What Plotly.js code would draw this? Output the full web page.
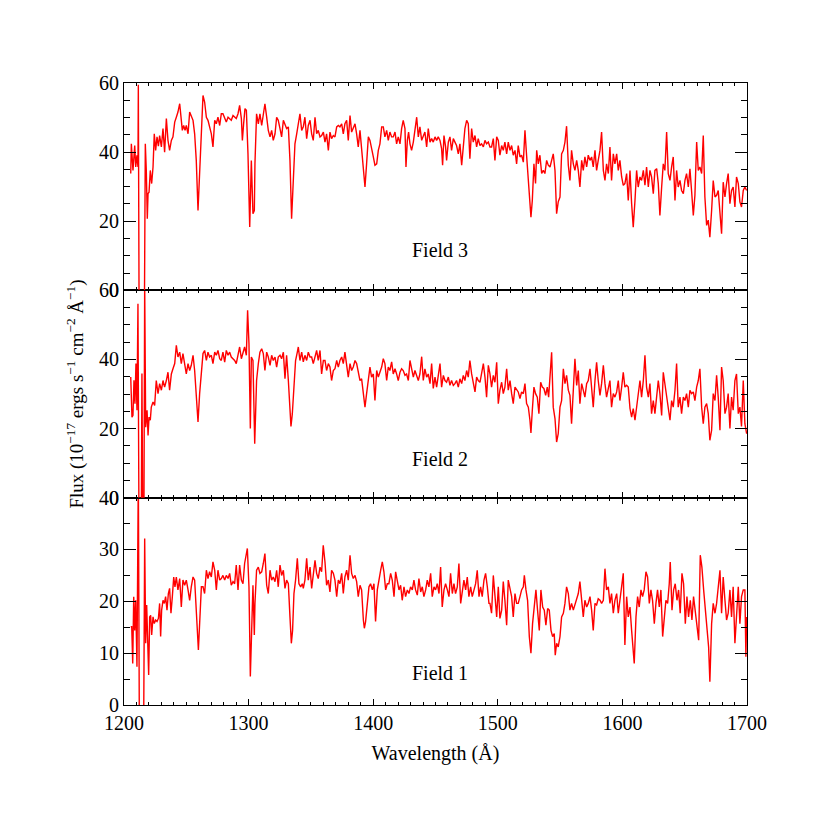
<!DOCTYPE html>
<html>
<head>
<meta charset="utf-8">
<script src="https://cdn.plot.ly/plotly-3.0.1.min.js"></script>
<style>
  body { margin: 0; background: #fff; }
  #spec { width: 830px; height: 830px; }
</style>
</head>
<body>
<div id="spec"></div>
<script>
// spectra: [wavelength (A), flux (1e-17 erg/s/cm2/A)]
let field3 = [
  [1205.4,33.8],[1205.9,42.4],[1207.2,34.7],[1208.6,41.9],[1209.4,35.7],[1210.4,39.1],[1211.2,35.7],[1211.5,59.5],
  [1212.1,-5],[1216.4,-5],[1217.1,42.4],[1217.9,34.7],[1218.7,20.7],[1219.3,28.0],[1220.1,28.4],[1221.1,34.7],
  [1222.2,30.9],[1223.3,35.7],[1224.3,45.3],[1225.4,40.5],[1226.5,44.4],[1227.6,41.7],[1228.6,44.8],[1230.0,41.5],
  [1231.3,46.8],[1232.6,40.0],[1234.0,49.7],[1235.3,43.4],[1236.6,40.5],[1238.0,43.4],[1239.3,44.4],[1240.7,48.7],
  [1242.0,50.1],[1243.3,51.6],[1244.7,54.0],[1246.0,49.2],[1246.8,46.3],[1247.9,47.7],[1249.0,46.3],[1250.0,47.7],
  [1251.4,45.3],[1252.7,51.6],[1254.0,50.1],[1255.4,49.2],[1256.7,45.3],[1258.0,37.6],[1259.4,23.1],[1260.7,34.7],
  [1262.1,49.7],[1263.4,56.4],[1264.7,54.5],[1266.1,50.1],[1267.4,49.2],[1268.7,47.3],[1270.1,45.3],[1271.4,41.5],
  [1272.8,49.2],[1274.1,48.2],[1275.4,50.1],[1276.8,47.7],[1278.1,51.1],[1279.4,51.1],[1280.8,50.1],[1282.1,48.7],
  [1283.5,50.1],[1284.8,49.7],[1286.1,49.2],[1287.5,50.6],[1288.8,50.1],[1290.1,49.7],[1291.5,51.1],[1292.8,53.5],
  [1294.2,49.7],[1295.0,43.4],[1296.0,48.2],[1297.1,52.6],[1298.2,52.1],[1299.5,39.5],[1300.9,18.3],[1302.2,37.6],
  [1303.5,22.2],[1304.6,23.1],[1305.1,36.6],[1306.4,51.1],[1307.8,48.2],[1309.1,51.1],[1310.5,47.7],[1311.8,51.1],
  [1313.1,54.0],[1314.5,50.1],[1315.8,46.3],[1317.2,44.4],[1318.5,46.3],[1319.8,43.4],[1321.2,45.3],[1322.5,50.1],
  [1323.8,49.2],[1325.2,46.8],[1326.5,44.4],[1327.9,49.2],[1329.2,48.2],[1330.5,46.8],[1331.9,47.3],[1333.2,37.6],
  [1334.5,20.7],[1335.9,34.7],[1337.2,42.4],[1338.6,45.3],[1339.9,48.2],[1341.2,51.1],[1342.6,46.3],[1343.9,47.3],
  [1345.2,50.1],[1346.6,43.9],[1347.9,47.7],[1349.3,49.2],[1350.6,45.3],[1351.9,43.4],[1353.3,50.1],[1354.6,45.3],
  [1355.9,46.3],[1357.3,44.4],[1358.6,44.8],[1360.0,45.8],[1361.3,42.9],[1362.6,45.3],[1364.0,40.5],[1365.3,45.8],
  [1366.6,43.9],[1368.0,44.8],[1369.3,44.4],[1370.7,47.3],[1372.0,47.7],[1373.3,47.3],[1374.7,48.2],[1376.0,45.3],
  [1377.3,48.2],[1378.7,49.2],[1380.0,43.4],[1381.4,50.6],[1382.7,45.8],[1384.0,46.8],[1385.4,48.2],[1386.7,45.3],
  [1388.0,41.5],[1389.4,46.3],[1390.7,40.5],[1392.1,35.7],[1393.4,29.9],[1394.7,36.6],[1396.1,44.4],[1397.4,43.4],
  [1398.7,40.5],[1400.1,38.6],[1401.4,36.2],[1402.8,36.6],[1404.1,40.5],[1405.4,42.4],[1406.8,47.3],[1408.1,47.3],
  [1409.4,44.4],[1410.8,46.3],[1412.1,43.4],[1413.4,45.8],[1414.8,44.4],[1416.1,44.4],[1417.5,45.8],[1418.8,42.4],
  [1420.1,44.4],[1421.5,42.4],[1422.8,46.8],[1424.1,49.2],[1425.5,46.8],[1426.3,35.7],[1427.4,43.4],[1428.4,45.8],
  [1429.5,42.4],[1430.8,40.5],[1432.2,42.9],[1433.5,46.3],[1434.9,50.1],[1436.2,44.4],[1437.5,47.3],[1438.9,43.4],
  [1440.2,44.4],[1441.5,45.8],[1442.9,41.5],[1444.2,46.8],[1445.6,42.9],[1446.9,43.9],[1448.2,42.9],[1449.6,44.4],
  [1450.9,43.4],[1452.2,44.4],[1453.6,43.4],[1454.9,41.0],[1455.7,36.2],[1456.8,44.8],[1458.1,41.5],[1458.9,37.6],
  [1460.3,42.9],[1461.6,44.4],[1462.9,40.5],[1464.3,43.9],[1465.6,42.9],[1466.9,41.9],[1468.3,39.5],[1469.6,42.4],
  [1471.0,36.2],[1472.3,41.5],[1473.6,46.8],[1475.0,49.2],[1476.3,48.2],[1477.6,38.1],[1479.0,46.8],[1480.3,42.9],
  [1481.7,44.8],[1483.0,41.5],[1484.3,43.9],[1485.7,41.9],[1487.0,42.4],[1488.4,41.5],[1489.7,43.4],[1491.0,42.4],
  [1492.4,42.9],[1493.7,41.5],[1495.0,41.5],[1496.4,43.9],[1497.7,37.6],[1499.1,44.4],[1500.4,43.4],[1501.7,39.1],
  [1503.1,41.9],[1504.4,40.5],[1505.7,42.9],[1507.1,39.5],[1508.4,42.9],[1509.8,40.5],[1511.1,41.9],[1512.4,39.1],
  [1513.8,40.5],[1515.1,36.6],[1516.4,41.9],[1517.8,38.6],[1519.1,39.1],[1520.5,37.1],[1521.8,46.3],[1523.1,39.1],
  [1524.5,32.8],[1525.8,26.0],[1526.6,21.2],[1527.7,26.0],[1529.0,36.6],[1530.3,30.9],[1531.2,40.5],[1532.5,36.6],
  [1533.8,39.1],[1535.2,33.8],[1536.5,34.7],[1537.8,33.8],[1539.2,37.6],[1540.5,36.2],[1541.9,35.7],[1543.2,37.6],
  [1544.5,39.5],[1545.9,34.7],[1547.2,22.2],[1548.5,25.6],[1549.9,27.0],[1551.2,39.5],[1552.6,40.5],[1553.9,42.9],
  [1555.2,47.5],[1556.6,36.2],[1557.9,31.8],[1559.2,40.5],[1560.6,36.6],[1561.9,34.7],[1563.3,37.6],[1564.6,34.7],
  [1565.9,29.9],[1567.3,37.6],[1568.6,34.7],[1569.9,38.6],[1571.3,35.7],[1572.6,39.1],[1574.0,37.6],[1575.3,38.6],
  [1576.6,35.7],[1578.0,40.5],[1579.3,34.7],[1580.6,37.6],[1582.0,40.5],[1583.3,45.8],[1584.7,34.7],[1586.0,31.8],
  [1587.3,36.6],[1588.7,33.8],[1590.0,41.5],[1591.3,31.8],[1592.7,39.5],[1594.0,36.6],[1595.4,39.5],[1596.7,34.7],
  [1598.0,37.6],[1599.4,32.8],[1600.7,30.4],[1602.0,30.9],[1603.4,33.8],[1604.7,26.0],[1606.1,34.7],[1607.4,25.1],
  [1608.7,18.3],[1610.1,26.0],[1611.4,34.7],[1612.7,29.9],[1614.1,32.8],[1615.4,31.8],[1616.8,34.7],[1618.1,30.4],
  [1619.4,35.7],[1620.8,29.9],[1622.1,34.7],[1623.4,32.8],[1624.8,28.0],[1626.1,34.7],[1627.5,35.2],[1628.8,30.9],
  [1630.1,21.7],[1631.5,29.9],[1632.8,36.6],[1634.1,34.7],[1635.5,45.8],[1636.8,33.8],[1638.2,31.8],[1639.5,35.7],
  [1640.8,38.6],[1642.2,26.0],[1643.5,34.7],[1644.8,29.9],[1646.2,31.8],[1647.5,28.9],[1648.9,28.0],[1650.2,31.8],
  [1651.5,33.8],[1652.9,29.9],[1654.2,35.2],[1655.5,28.9],[1656.9,21.7],[1658.2,27.5],[1659.6,42.9],[1660.9,34.7],
  [1662.2,35.7],[1663.6,33.8],[1664.9,44.8],[1666.2,27.0],[1667.6,18.8],[1668.9,20.3],[1670.2,15.4],[1671.6,23.1],
  [1672.9,31.8],[1674.3,27.0],[1675.6,27.5],[1676.9,28.9],[1678.3,21.2],[1679.6,16.4],[1680.9,31.3],[1682.3,27.0],
  [1683.6,30.9],[1684.9,33.8],[1686.3,25.1],[1687.6,28.9],[1688.9,29.9],[1690.3,24.1],[1691.6,32.8],[1693.0,30.9],
  [1694.3,25.6],[1695.6,24.1],[1697.0,28.9],[1698.3,29.9],[1699.7,28.9]
];

let field2 = [
  [1205.4,34.9],[1206.4,23.3],[1207.2,23.8],[1208.0,34.0],[1208.8,27.2],[1209.6,38.8],[1210.4,25.3],[1211.2,56.1],
  [1212.0,-5],[1213.9,-5],[1214.4,35.9],[1215.0,-5],[1216.0,-5],[1216.6,62],[1217.4,20.4],[1218.5,25.3],
  [1219.3,18.0],[1220.1,23.3],[1221.1,22.4],[1221.9,26.2],[1223.3,27.7],[1224.6,26.7],[1225.9,33.9],[1227.3,30.1],
  [1228.6,33.0],[1230.0,31.1],[1231.3,33.9],[1232.6,32.0],[1234.0,33.9],[1235.3,36.3],[1236.6,31.1],[1238.0,35.8],
  [1239.3,37.3],[1240.7,38.8],[1242.0,44.1],[1243.3,40.7],[1244.7,42.1],[1246.0,38.8],[1247.3,41.7],[1248.7,38.8],
  [1250.0,35.8],[1251.4,38.8],[1252.7,36.8],[1254.0,38.3],[1255.4,41.2],[1256.7,36.8],[1258.0,29.1],[1259.4,21.9],
  [1260.7,30.1],[1262.1,36.8],[1263.4,41.7],[1264.7,42.6],[1266.1,39.7],[1267.4,42.1],[1268.7,40.7],[1270.1,41.2],
  [1271.4,38.8],[1272.8,42.1],[1274.1,41.2],[1275.4,42.6],[1276.8,40.2],[1278.1,39.7],[1279.4,42.1],[1280.8,39.2],
  [1282.1,42.6],[1283.5,41.2],[1284.8,42.1],[1286.1,40.7],[1287.5,40.2],[1288.8,39.7],[1290.1,38.8],[1291.5,41.2],
  [1292.8,43.6],[1294.2,40.2],[1295.5,41.7],[1296.8,43.6],[1298.2,41.2],[1299.2,54.2],[1300.3,44.6],[1301.4,20.0],
  [1302.2,40.7],[1303.5,39.7],[1304.9,15.6],[1306.4,33.9],[1307.8,38.8],[1309.1,42.1],[1310.5,43.1],[1311.8,41.7],
  [1313.1,36.8],[1314.5,42.1],[1315.8,40.7],[1317.2,38.3],[1318.5,41.2],[1319.8,39.7],[1321.2,40.7],[1322.5,37.8],
  [1323.8,40.7],[1325.2,41.2],[1326.5,40.2],[1327.9,42.1],[1329.2,34.4],[1330.5,41.2],[1331.9,33.9],[1333.2,24.3],
  [1334.0,20.6],[1335.1,24.3],[1336.4,33.9],[1337.7,39.7],[1339.1,42.1],[1339.9,43.6],[1341.2,39.7],[1342.6,42.1],
  [1343.9,39.3],[1345.2,41.2],[1346.6,39.7],[1347.9,42.1],[1349.3,40.7],[1350.6,40.7],[1351.9,38.8],[1353.3,40.7],
  [1354.6,42.6],[1355.9,39.7],[1357.3,42.6],[1358.6,35.8],[1360.0,39.7],[1361.3,39.7],[1362.6,36.8],[1364.0,38.8],
  [1365.3,37.8],[1366.6,33.9],[1368.0,36.8],[1369.3,37.3],[1370.7,39.7],[1372.0,37.8],[1373.3,39.7],[1374.7,40.7],
  [1376.0,38.8],[1377.3,42.1],[1378.7,37.8],[1380.0,34.9],[1381.4,38.8],[1382.7,36.8],[1384.0,37.8],[1385.4,39.7],
  [1386.7,38.8],[1388.0,36.8],[1389.4,33.9],[1390.7,34.4],[1392.1,30.1],[1393.4,26.2],[1394.7,30.1],[1396.1,33.9],
  [1397.4,37.8],[1398.7,34.9],[1400.1,35.8],[1401.4,28.1],[1402.8,36.8],[1404.1,34.9],[1405.4,36.3],[1406.8,37.8],
  [1408.1,40.2],[1409.4,38.8],[1410.8,33.9],[1412.1,37.8],[1413.4,36.8],[1414.8,39.3],[1416.1,35.8],[1417.5,37.3],
  [1418.8,35.8],[1420.1,33.9],[1421.5,36.3],[1422.8,37.3],[1424.1,36.8],[1425.5,35.4],[1426.8,35.8],[1428.2,33.9],
  [1429.5,39.7],[1430.8,36.8],[1432.2,34.9],[1433.5,36.8],[1434.9,34.9],[1436.2,33.9],[1437.5,35.8],[1438.9,40.8],
  [1440.2,33.9],[1441.5,37.3],[1442.9,34.9],[1444.2,35.8],[1445.6,33.0],[1446.9,38.8],[1448.2,31.6],[1449.6,34.9],
  [1450.9,32.0],[1452.2,35.4],[1453.6,38.8],[1454.9,32.0],[1456.3,35.4],[1457.6,33.9],[1458.9,33.4],[1460.3,34.9],
  [1461.6,32.5],[1462.9,33.9],[1464.3,32.5],[1465.6,33.0],[1466.9,33.9],[1468.3,32.0],[1469.6,34.4],[1471.0,33.0],
  [1472.3,35.4],[1473.6,33.9],[1475.0,36.8],[1476.3,34.9],[1477.6,39.7],[1479.0,35.8],[1480.3,33.0],[1481.7,30.6],
  [1483.0,34.9],[1484.3,33.9],[1485.7,33.4],[1487.0,35.8],[1488.4,38.8],[1489.7,34.9],[1491.0,29.1],[1492.4,38.3],
  [1493.7,35.8],[1495.0,32.0],[1496.4,35.4],[1497.7,33.4],[1499.1,39.2],[1500.4,27.2],[1501.7,31.1],[1503.1,33.4],
  [1504.4,30.1],[1505.7,32.0],[1507.1,37.3],[1508.4,31.1],[1509.8,33.9],[1511.1,30.1],[1512.4,27.2],[1513.8,32.0],
  [1515.1,31.1],[1516.4,30.6],[1517.8,28.7],[1519.1,30.6],[1520.5,30.1],[1521.8,33.0],[1523.1,27.2],[1524.5,26.2],
  [1525.8,22.4],[1526.6,18.7],[1527.7,25.3],[1529.0,32.0],[1530.3,30.1],[1531.7,29.1],[1533.0,24.3],[1534.4,33.4],
  [1535.7,32.0],[1537.0,31.6],[1538.4,29.6],[1539.7,32.0],[1540.8,29.1],[1541.9,33.9],[1543.2,42.1],[1544.5,26.2],
  [1545.9,22.9],[1547.2,16.1],[1548.5,18.5],[1549.9,26.2],[1551.2,28.1],[1552.6,37.3],[1553.9,33.0],[1555.2,35.4],
  [1556.6,31.1],[1557.9,29.6],[1559.2,21.4],[1560.6,31.1],[1561.9,40.2],[1563.3,32.5],[1564.6,36.8],[1565.9,27.2],
  [1567.3,33.0],[1568.6,31.1],[1569.9,29.1],[1571.3,33.0],[1572.6,33.9],[1574.0,37.3],[1575.3,32.0],[1576.6,26.2],
  [1578.0,33.9],[1579.3,39.2],[1580.6,33.9],[1582.0,29.6],[1583.3,33.0],[1584.7,38.3],[1586.0,33.0],[1587.3,29.1],
  [1588.7,31.6],[1590.0,33.9],[1591.3,26.2],[1592.7,30.1],[1594.0,29.1],[1595.4,30.6],[1596.7,33.9],[1598.0,28.1],
  [1599.4,32.0],[1600.7,36.3],[1602.0,32.0],[1603.4,32.5],[1604.7,32.0],[1606.1,25.8],[1607.4,23.3],[1608.7,25.8],
  [1610.1,22.4],[1611.4,25.8],[1612.7,30.1],[1614.1,33.9],[1615.4,29.1],[1616.8,33.9],[1618.1,41.2],[1619.4,32.0],
  [1620.8,29.1],[1622.1,33.0],[1623.4,24.3],[1624.8,28.1],[1626.1,24.3],[1627.5,30.1],[1628.8,33.9],[1630.1,30.1],
  [1631.5,23.8],[1632.8,36.3],[1634.1,33.0],[1635.5,29.1],[1636.8,26.2],[1638.2,22.4],[1639.5,28.1],[1640.8,26.2],
  [1642.2,31.1],[1643.5,38.8],[1644.8,26.2],[1646.2,29.1],[1647.5,24.3],[1648.9,29.1],[1650.2,28.1],[1651.5,30.1],
  [1652.9,26.2],[1654.2,31.1],[1655.5,30.1],[1656.9,30.6],[1658.2,28.1],[1659.6,32.0],[1660.9,33.9],[1662.2,37.3],
  [1663.6,26.2],[1664.9,21.4],[1666.2,26.2],[1667.6,27.2],[1668.9,24.3],[1670.2,16.6],[1671.6,19.5],[1672.9,30.1],
  [1674.3,28.1],[1675.6,35.4],[1676.9,29.1],[1678.3,19.5],[1679.6,37.8],[1680.9,33.9],[1682.3,24.3],[1683.6,26.2],
  [1684.9,30.1],[1686.3,20.0],[1687.6,29.1],[1688.9,25.3],[1690.3,33.9],[1691.6,35.8],[1693.0,24.3],[1694.3,26.2],
  [1695.6,20.6],[1697.0,33.9],[1698.3,21.4],[1699.7,18.5]
];

let field1 = [
  [1205.4,15.1],[1206.2,15.1],[1207.0,8.0],[1207.8,20.9],[1208.6,14.4],[1209.4,20.2],[1210.4,7.4],[1211.5,45],
  [1212.3,-3],[1215.8,-3],[1216.6,32.1],[1217.4,11.9],[1218.2,19.3],[1219.0,11.9],[1219.8,5.8],[1220.6,17.0],
  [1221.4,17.3],[1222.2,13.5],[1223.3,17.0],[1224.3,15.7],[1225.4,16.4],[1226.5,16.1],[1227.6,16.7],[1228.6,19.6],
  [1229.4,13.2],[1230.2,18.3],[1231.3,20.2],[1232.4,19.6],[1233.4,20.9],[1234.5,18.3],[1235.6,21.5],[1236.6,22.5],
  [1237.7,17.7],[1238.8,20.9],[1239.9,24.7],[1240.9,22.8],[1242.0,24.7],[1243.3,22.2],[1244.7,24.4],[1246.0,18.9],
  [1247.3,24.1],[1248.7,23.1],[1250.0,24.1],[1251.4,22.2],[1252.7,20.2],[1254.0,22.8],[1255.4,24.7],[1256.7,24.1],
  [1258.0,18.9],[1259.7,10.6],[1260.7,15.7],[1262.1,22.8],[1263.4,22.8],[1264.7,21.5],[1266.1,26.0],[1267.4,24.4],
  [1268.7,25.7],[1270.1,24.7],[1271.4,27.6],[1272.8,26.0],[1274.1,22.2],[1275.4,26.0],[1276.8,24.1],[1278.1,24.4],
  [1279.4,25.0],[1280.8,24.1],[1282.1,25.0],[1283.5,24.4],[1284.8,25.4],[1286.1,23.1],[1287.5,23.8],[1288.8,23.4],
  [1290.1,27.0],[1291.5,22.2],[1292.8,27.0],[1294.2,24.1],[1295.5,23.4],[1296.8,27.3],[1299.0,30.2],[1300.3,22.8],
  [1301.4,5.5],[1302.7,14.4],[1303.5,23.1],[1304.6,13.5],[1305.1,19.6],[1306.4,26.0],[1307.8,26.6],[1309.1,25.4],
  [1310.5,25.7],[1311.8,27.3],[1313.1,29.2],[1314.5,23.1],[1315.8,21.5],[1317.2,26.0],[1318.5,24.1],[1319.8,24.7],
  [1321.2,23.8],[1322.5,26.0],[1323.8,22.8],[1325.2,27.0],[1326.5,25.0],[1327.9,26.0],[1329.2,22.5],[1330.5,24.1],
  [1331.9,23.4],[1333.2,17.0],[1334.3,11.9],[1335.3,14.4],[1336.4,21.5],[1337.7,24.1],[1339.1,28.3],[1340.4,23.4],
  [1341.8,22.8],[1343.1,23.4],[1343.9,22.5],[1345.2,24.1],[1346.6,28.3],[1347.9,24.1],[1349.3,26.6],[1350.6,22.5],
  [1351.9,25.4],[1353.3,27.9],[1354.6,25.4],[1355.9,24.4],[1357.3,26.6],[1358.6,25.7],[1359.9,30.8],[1361.3,27.6],
  [1362.6,23.1],[1364.0,24.1],[1365.3,21.8],[1366.6,26.0],[1368.0,25.4],[1369.3,24.1],[1370.7,20.9],[1372.0,24.1],
  [1373.3,23.4],[1374.7,25.4],[1376.0,21.5],[1377.3,24.7],[1378.7,26.0],[1380.0,24.1],[1381.4,28.9],[1382.7,25.4],
  [1384.0,24.4],[1385.4,25.0],[1386.7,23.8],[1388.0,20.9],[1389.4,23.1],[1390.7,22.2],[1392.1,16.4],[1392.9,14.8],
  [1393.9,16.1],[1395.3,20.2],[1396.6,22.8],[1397.9,23.4],[1399.3,22.2],[1400.6,23.4],[1401.9,16.1],[1403.3,22.2],
  [1404.6,24.4],[1406.0,26.0],[1407.3,27.6],[1408.6,25.7],[1410.0,22.2],[1411.3,23.4],[1412.6,23.4],[1414.0,25.4],
  [1415.3,24.1],[1416.7,20.9],[1418.0,25.7],[1419.3,24.1],[1420.7,22.2],[1422.0,23.1],[1423.3,20.2],[1424.7,22.8],
  [1426.0,20.9],[1427.4,22.2],[1428.7,21.5],[1430.0,22.8],[1431.4,22.2],[1432.7,24.1],[1434.0,22.2],[1435.4,21.2],
  [1436.7,24.4],[1438.1,21.8],[1439.4,22.8],[1440.7,20.9],[1442.1,22.2],[1443.4,24.1],[1444.7,22.8],[1446.1,25.4],
  [1447.4,20.9],[1448.8,22.8],[1450.1,22.2],[1451.4,23.4],[1452.8,21.5],[1454.1,26.6],[1455.4,18.9],[1456.8,22.2],
  [1458.1,23.4],[1459.5,22.2],[1460.8,20.9],[1462.1,25.4],[1463.5,21.5],[1464.8,23.4],[1466.1,21.5],[1467.5,22.8],
  [1468.8,27.3],[1470.2,19.6],[1471.5,22.2],[1472.8,24.1],[1474.2,22.2],[1475.5,24.7],[1476.8,20.9],[1478.2,22.8],
  [1479.5,20.9],[1480.9,22.2],[1482.2,23.4],[1483.5,26.0],[1484.9,20.9],[1486.2,22.8],[1487.5,20.9],[1488.9,24.1],
  [1490.2,25.4],[1491.6,22.8],[1492.9,19.6],[1493.7,19.6],[1495.0,17.7],[1496.4,25.0],[1497.7,20.2],[1499.1,17.0],
  [1500.4,22.8],[1501.7,16.7],[1503.1,18.3],[1504.4,23.8],[1505.7,20.2],[1507.1,15.4],[1508.4,24.1],[1509.8,22.2],
  [1511.1,20.9],[1512.4,17.0],[1513.8,21.5],[1515.1,19.6],[1516.4,19.6],[1517.8,20.9],[1519.1,22.2],[1520.5,22.8],
  [1521.3,25.0],[1522.6,22.2],[1523.9,20.2],[1525.3,13.2],[1526.6,10.0],[1527.9,15.7],[1529.3,18.9],[1530.6,22.2],
  [1531.9,18.3],[1533.3,14.4],[1534.6,22.2],[1536.0,18.9],[1537.3,18.3],[1538.6,15.4],[1540.0,18.6],[1541.3,18.3],
  [1542.7,14.4],[1544.0,13.2],[1545.3,13.8],[1546.1,9.6],[1547.2,11.9],[1548.5,11.2],[1549.9,13.2],[1551.2,17.0],
  [1552.6,17.7],[1553.9,19.6],[1555.2,22.8],[1556.6,21.5],[1557.9,18.3],[1559.2,19.6],[1560.6,18.3],[1561.9,19.3],
  [1563.3,20.2],[1564.6,21.5],[1565.9,23.8],[1567.3,19.6],[1568.6,17.0],[1569.9,20.2],[1571.3,18.9],[1572.6,19.6],
  [1574.0,20.9],[1575.3,18.3],[1576.6,14.4],[1578.0,19.6],[1579.3,19.3],[1580.6,20.5],[1582.0,20.2],[1583.3,19.6],
  [1584.7,20.2],[1586.0,26.3],[1587.3,22.2],[1588.7,22.8],[1590.0,19.6],[1591.3,21.5],[1592.7,17.7],[1594.0,20.2],
  [1595.4,21.5],[1596.7,17.7],[1598.0,20.2],[1599.4,22.2],[1600.7,25.4],[1602.0,11.6],[1603.4,20.9],[1604.7,17.0],
  [1606.1,18.9],[1607.4,14.4],[1608.7,11.2],[1609.5,8.0],[1610.9,17.0],[1612.2,20.9],[1613.5,18.9],[1614.9,22.2],
  [1616.2,20.9],[1617.5,22.2],[1618.9,25.7],[1620.2,24.7],[1621.6,19.6],[1622.9,22.2],[1624.2,20.2],[1625.6,15.7],
  [1626.9,19.6],[1628.2,22.2],[1629.6,18.9],[1630.9,22.2],[1632.3,13.2],[1633.6,17.0],[1634.9,20.2],[1636.3,19.6],
  [1637.6,23.4],[1638.4,27.6],[1639.8,18.3],[1641.1,22.2],[1642.4,23.4],[1643.8,20.2],[1645.1,22.2],[1646.4,17.7],
  [1647.8,25.4],[1649.1,23.4],[1650.5,15.7],[1651.8,20.9],[1653.1,17.0],[1654.5,20.2],[1655.8,16.4],[1657.1,20.9],
  [1658.5,18.3],[1659.8,15.7],[1661.2,12.5],[1662.5,28.9],[1663.8,26.6],[1665.2,22.2],[1666.5,18.9],[1667.8,15.7],
  [1669.2,11.2],[1670.2,4.5],[1671.6,15.7],[1672.9,19.6],[1674.3,17.7],[1675.6,19.6],[1676.9,22.2],[1678.3,26.0],
  [1679.6,17.7],[1680.9,24.7],[1682.3,20.2],[1683.6,16.4],[1684.9,17.7],[1686.3,22.2],[1687.6,17.0],[1688.9,22.8],
  [1690.3,11.9],[1691.6,16.4],[1693.0,22.8],[1694.3,15.7],[1695.6,20.9],[1697.0,22.2],[1698.3,22.2],[1699.1,9.3],
  [1699.7,17.0]
];

let xTicks = [1200, 1300, 1400, 1500, 1600, 1700];
let panelNames = ["Field 1", "Field 2", "Field 3"];

const serif = "'Liberation Serif', 'Times New Roman', serif";
const red = "#ff0000";

function spectrum(pairs, xa, ya) {
    return {
        x: pairs.map(p => p[0]),
        y: pairs.map(p => p[1]),
        xaxis: xa, yaxis: ya,
        type: "scatter", mode: "lines",
        line: {color: red, width: 1.4},
        hoverinfo: "skip"
    };
}

let data = [
    spectrum(field1, "x", "y"),
    spectrum(field2, "x2", "y2"),
    spectrum(field3, "x3", "y3")
];

function xAxis(anchor, showLabels) {
    return {
        anchor: anchor, domain: [0, 1], range: [1200, 1700],
        tickvals: xTicks, showticklabels: showLabels,
        ticks: "inside", ticklen: 6, tickwidth: 1, tickcolor: "#000",
        minor: {dtick: 10, tick0: 1200, ticks: "inside", ticklen: 3, tickcolor: "#000", tickwidth: 1},
        showline: true, linecolor: "#000", linewidth: 1, mirror: "allticks",
        showgrid: false, zeroline: false,
        tickfont: {family: serif, size: 20, color: "#000"}
    };
}

function yAxis(anchor, dom, top, step) {
    return {
        anchor: anchor, domain: dom, range: [0, top],
        dtick: step, tick0: 0,
        ticks: "inside", ticklen: 12, tickwidth: 1, tickcolor: "#000",
        minor: {dtick: 5, ticks: "inside", ticklen: 6, tickcolor: "#000", tickwidth: 1},
        showline: true, linecolor: "#000", linewidth: 1, mirror: "allticks",
        showgrid: false, zeroline: false,
        tickfont: {family: serif, size: 20, color: "#000"}
    };
}

let xa1 = xAxis("y", true);
xa1.title = {text: "Wavelength (Å)", font: {family: serif, size: 20, color: "#000"}, standoff: 12};

let ya2 = yAxis("x2", [1/3, 2/3], 60, 20);
ya2.title = {
    text: "Flux (10<sup>−17</sup> ergs s<sup>−1</sup> cm<sup>−2</sup> Å<sup>−1</sup>)",
    font: {family: serif, size: 19, color: "#000"}, standoff: 10
};

let labelFont = {family: serif, size: 20, color: "#000"};

let layout = {
    width: 830, height: 830,
    margin: {l: 124, r: 83, t: 83, b: 125},
    paper_bgcolor: "#fff", plot_bgcolor: "#fff",
    showlegend: false,
    font: {family: serif, color: "#000"},
    xaxis: xa1,
    xaxis2: Object.assign(xAxis("y2", false), {matches: "x"}),
    xaxis3: Object.assign(xAxis("y3", false), {matches: "x"}),
    yaxis: yAxis("x", [0, 1/3], 40, 10),
    yaxis2: ya2,
    yaxis3: yAxis("x3", [2/3, 1], 60, 20),
    annotations: [
        {text: panelNames[0], xref: "x", yref: "y", x: 1454, y: 6.2, showarrow: false, font: labelFont},
        {text: panelNames[1], xref: "x2", yref: "y2", x: 1454, y: 11.3, showarrow: false, font: labelFont},
        {text: panelNames[2], xref: "x3", yref: "y3", x: 1454, y: 11.6, showarrow: false, font: labelFont}
    ]
};

Plotly.newPlot("spec", data, layout, {staticPlot: true});
</script>
</body>
</html>
